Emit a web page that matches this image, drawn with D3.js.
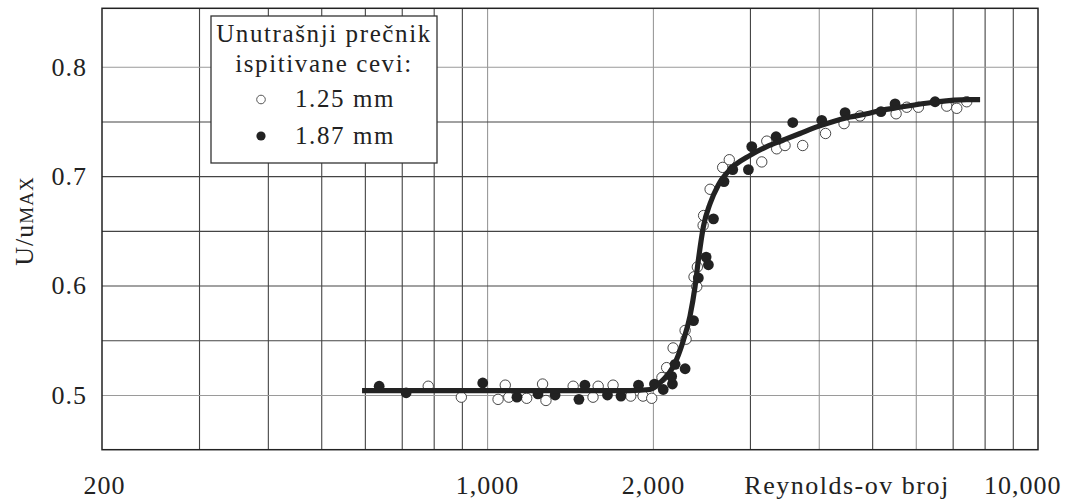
<!DOCTYPE html>
<html>
<head>
<meta charset="utf-8">
<script src="https://cdn.jsdelivr.net/npm/d3@7"></script>
<style>
  html, body { margin: 0; padding: 0; background: #fff; }
  svg { display: block; }
  text { font-family: "Liberation Serif", "Times New Roman", serif; fill: #222; }
</style>
</head>
<body>
<svg id="chart" width="1067" height="502"></svg>
<script>
// ---- data ----
const xLabelTicks = [200, 1000, 2000, 10000];
const xGridValues = [300, 400, 500, 600, 700, 800, 900, 1000, 2000, 3000, 4000, 5000, 6000, 7000, 8000, 9000];
const xLightGrid = [1000, 2000, 4000, 6000];
const yLabelTicks = [0.5, 0.6, 0.7, 0.8];
const yGridValues = [0.5, 0.55, 0.6, 0.65, 0.7, 0.75, 0.8];
const yLightGrid = [0.5, 0.8];

const seriesNames = ["1.25 mm", "1.87 mm"];
const legendTitle = ["Unutrašnji prečnik", "ispitivane cevi:"];
const xAxisTitle = "Reynolds-ov broj";

// 1.25 mm (open circles)
const re125 = [782, 898, 1047, 1079, 1095, 1180, 1261, 1279, 1433, 1557, 1591, 1693, 1823, 1919, 1990,
  2077, 2118, 2176, 2288, 2297, 2375, 2402, 2408, 2467, 2472, 2540, 2677, 2752, 3152, 3219, 3355,
  3474, 3740, 4115, 4446, 4753, 5526, 5778, 6066, 6829, 7121, 7424];
const u125 = [0.508, 0.498, 0.496, 0.509, 0.498, 0.497, 0.510, 0.495, 0.508, 0.498, 0.508, 0.509, 0.499, 0.499, 0.497,
  0.516, 0.525, 0.543, 0.559, 0.551, 0.608, 0.599, 0.617, 0.655, 0.664, 0.688, 0.708, 0.715, 0.713, 0.732, 0.725,
  0.728, 0.728, 0.739, 0.748, 0.755, 0.757, 0.763, 0.763, 0.764, 0.762, 0.768];

// 1.87 mm (filled circles)
const re187 = [637, 713, 982, 1133, 1237, 1329, 1468, 1505, 1654, 1750, 1883, 2013, 2088, 2170, 2163, 2194,
  2288, 2370, 2418, 2498, 2522, 2576, 2692, 2792, 2981, 3023, 3346, 3588, 4050, 4465, 5188, 5502, 6504];
const u187 = [0.508, 0.502, 0.511, 0.498, 0.501, 0.500, 0.496, 0.509, 0.500, 0.499, 0.509, 0.510, 0.505, 0.510, 0.517, 0.528,
  0.524, 0.568, 0.607, 0.626, 0.619, 0.661, 0.695, 0.706, 0.706, 0.727, 0.736, 0.749, 0.751, 0.758, 0.759, 0.766, 0.768];

// fitted curve
const curveRe = [593, 1817, 1976, 2088, 2178, 2272, 2335, 2385, 2418, 2470, 2540, 2629, 2761, 3002, 3219,
  3450, 3698, 3966, 4253, 4559, 4888, 5169, 5618, 6457, 7424, 7850];
const curveU = [0.504, 0.504, 0.505, 0.514, 0.526, 0.550, 0.572, 0.599, 0.623, 0.654, 0.675, 0.692, 0.706, 0.719, 0.727,
  0.733, 0.739, 0.745, 0.750, 0.754, 0.757, 0.760, 0.763, 0.7675, 0.770, 0.770];

// ---- drawing ----
const svg = d3.select("#chart");
const plot = { left: 102, right: 1038, top: 8.3, bottom: 449.7 };

const x = d3.scaleLog().domain([200, 10000]).range([plot.left, plot.right]);
const y = d3.scaleLinear().domain([0.45, 0.8534]).range([plot.bottom, plot.top]);

// vertical grid
const gx = svg.append("g")
  .attr("transform", `translate(0,${plot.bottom})`)
  .call(d3.axisBottom(x).tickValues(xGridValues).tickSize(-(plot.bottom - plot.top)).tickFormat(""));
gx.select(".domain").remove();
gx.selectAll("line")
  .attr("stroke", d => xLightGrid.includes(d) ? "#9a9a9a" : "#444")
  .attr("stroke-width", 1.1);

// horizontal grid
const gy = svg.append("g")
  .attr("transform", `translate(${plot.left},0)`)
  .call(d3.axisLeft(y).tickValues(yGridValues).tickSize(-(plot.right - plot.left)).tickFormat(""));
gy.select(".domain").remove();
gy.selectAll("line")
  .attr("stroke", d => yLightGrid.includes(d) ? "#9a9a9a" : "#444")
  .attr("stroke-width", 1.1);

// plot border
svg.append("rect")
  .attr("x", plot.left).attr("y", plot.top)
  .attr("width", plot.right - plot.left).attr("height", plot.bottom - plot.top)
  .attr("fill", "none").attr("stroke", "#222").attr("stroke-width", 1.5);

// y labels
const ay = svg.append("g")
  .attr("transform", `translate(${plot.left},0)`)
  .call(d3.axisLeft(y).tickValues(yLabelTicks).tickSize(0).tickPadding(15).tickFormat(d3.format(".1f")));
ay.select(".domain").remove();
ay.selectAll("text")
  .style("font-family", '"Liberation Serif", serif')
  .style("font-size", "26px").style("letter-spacing", "1px").attr("fill", "#222");

// x labels
const ax = svg.append("g")
  .attr("transform", `translate(0,${plot.bottom})`)
  .call(d3.axisBottom(x).tickValues(xLabelTicks).tickSize(0).tickPadding(26).tickFormat(d3.format(",")));
ax.select(".domain").remove();
ax.selectAll("text")
  .style("font-family", '"Liberation Serif", serif')
  .style("font-size", "26px").style("letter-spacing", "1px").attr("fill", "#222")
  .attr("text-anchor", d => d === 10000 ? "end" : "middle")
  .attr("dx", d => d === 10000 ? "23" : (d === 200 ? "2" : "0"));

// x title
svg.append("text")
  .attr("x", 847).attr("y", 494)
  .attr("text-anchor", "middle")
  .style("font-size", "26px").style("letter-spacing", "1.5px")
  .text(xAxisTitle);

// y title
const yt = svg.append("text")
  .attr("transform", "translate(33,221) rotate(-90)")
  .attr("text-anchor", "middle")
  .style("letter-spacing", "1px");
yt.append("tspan").style("font-size", "26px").text("U/u");
yt.append("tspan").style("font-size", "19px").text("MAX");

// points
const pts125 = re125.map((r, i) => ({ re: r, u: u125[i] }));
const pts187 = re187.map((r, i) => ({ re: r, u: u187[i] }));

svg.append("g").selectAll("circle").data(pts125).join("circle")
  .attr("cx", d => x(d.re)).attr("cy", d => y(d.u)).attr("r", 5.2)
  .attr("fill", "#fff").attr("stroke", "#333").attr("stroke-width", 0.9);

svg.append("g").selectAll("circle").data(pts187).join("circle")
  .attr("cx", d => x(d.re)).attr("cy", d => y(d.u)).attr("r", 5.4)
  .attr("fill", "#222");

// curve
const curvePts = curveRe.map((r, i) => ({ re: r, u: curveU[i] }));
svg.append("path")
  .datum(curvePts)
  .attr("d", d3.line().x(d => x(d.re)).y(d => y(d.u)).curve(d3.curveMonotoneX))
  .attr("fill", "none").attr("stroke", "#222").attr("stroke-width", 5.2)
  .attr("stroke-linecap", "butt").attr("stroke-linejoin", "round");

// legend
const lg = svg.append("g");
lg.append("rect")
  .attr("x", 211).attr("y", 16).attr("width", 226).attr("height", 147)
  .attr("fill", "#fff").attr("stroke", "#333").attr("stroke-width", 1.3);
lg.selectAll("text.title").data(legendTitle).join("text")
  .attr("class", "title")
  .attr("x", 324).attr("y", (d, i) => 42 + i * 30)
  .attr("text-anchor", "middle")
  .style("font-size", "25px").style("letter-spacing", "1.6px")
  .text(d => d);
const legendRows = seriesNames.map((n, i) => ({ name: n, filled: i === 1 }));
const rows = lg.selectAll("g.row").data(legendRows).join("g")
  .attr("class", "row")
  .attr("transform", (d, i) => `translate(0,${i * 36.5})`);
rows.append("circle")
  .attr("cx", 261).attr("cy", 99.5).attr("r", d => d.filled ? 4.6 : 4.3)
  .attr("fill", d => d.filled ? "#222" : "#fff")
  .attr("stroke", d => d.filled ? "none" : "#444").attr("stroke-width", 0.9);
rows.append("text")
  .attr("x", 295).attr("y", 107)
  .style("font-size", "25px").style("letter-spacing", "1.6px")
  .text(d => d.name);
</script>
</body>
</html>
